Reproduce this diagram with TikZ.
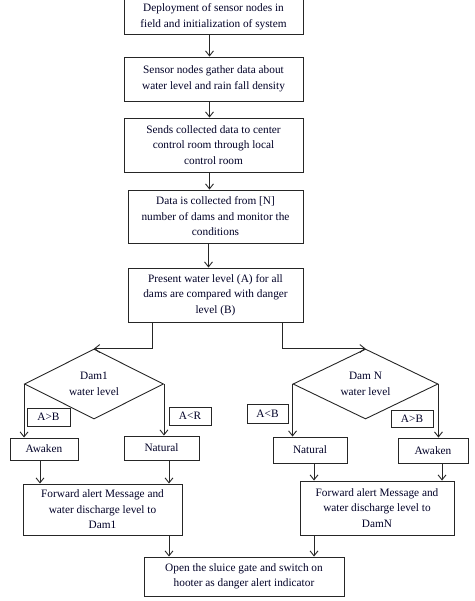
\documentclass[tikz,border=0pt]{standalone}
\usepackage{fontspec}
\setmainfont{Liberation Serif}
\usetikzlibrary{shapes.geometric,arrows.meta}
\begin{document}
\begin{tikzpicture}[x=1pt,y=-1pt,
  every node/.style={font=\fontsize{11.3}{15.5}\selectfont, text=black!85!blue},
  box/.style={draw=black!85, line width=0.9pt, align=center, inner sep=0pt, anchor=center},
  lbl/.style={draw=black!85, line width=0.8pt, inner sep=0pt, anchor=center},
  dia/.style={draw=black!85, line width=0.9pt, diamond, aspect=2, inner sep=0pt, align=center},
  arr/.style={draw=black!85, line width=0.9pt, -{Straight Barb[length=5pt,width=8pt]}},
  ln/.style={draw=black!85, line width=0.9pt}]
\useasboundingbox (0,0) rectangle (474,601);
\node[box, minimum width=179pt, minimum height=36pt] (b1) at (213.5,16.5) {Deployment of sensor nodes in\\field and initialization of system};
\node[box, minimum width=179pt, minimum height=44pt] (b2) at (213.5,79) {Sensor nodes gather data about\\water level and rain fall density};
\node[box, minimum width=179pt, minimum height=54pt] (b3) at (213.5,145) {Sends collected data to center\\control room through local\\control room};
\node[box, minimum width=175pt, minimum height=53pt] (b4) at (215.5,216.5) {Data is collected from [N]\\number of dams and monitor the\\conditions};
\node[box, minimum width=175pt, minimum height=54pt] (b5) at (215.5,295) {Present water level (A) for all\\dams are compared with danger\\level (B)};
\node[dia, minimum width=139pt, minimum height=70pt] (d1) at (94,384) {Dam1\\water level};
\node[dia, minimum width=145pt, minimum height=70pt] (d2) at (365.5,384) {Dam N\\water level};
\node[lbl, minimum width=43pt, minimum height=18pt] (l1) at (48.5,417) {A>B};
\node[lbl, minimum width=42pt, minimum height=18pt] (l2) at (190,416) {A<R};
\node[lbl, minimum width=41pt, minimum height=19pt] (l3) at (267.5,413.5) {A<B};
\node[lbl, minimum width=42pt, minimum height=17pt] (l4) at (412,418.5) {A>B};
\node[box, minimum width=68pt, minimum height=22pt] (aw1) at (44,449) {Awaken};
\node[box, minimum width=75pt, minimum height=24pt] (na1) at (161.5,448) {Natural};
\node[box, minimum width=74pt, minimum height=26pt] (na2) at (310,450) {Natural};
\node[box, minimum width=70pt, minimum height=25pt] (aw2) at (433,450.5) {Awaken};
\node[box, minimum width=159pt, minimum height=51pt] (f1) at (102.5,509.5) {Forward alert Message and\\water discharge level to\\Dam1};
\node[box, minimum width=154pt, minimum height=54pt] (f2) at (377,508) {Forward alert Message and\\water discharge level to\\DamN};
\node[box, minimum width=200pt, minimum height=39pt] (fin) at (244,576.5) {Open the sluice gate and switch on\\hooter as danger alert indicator};
% main column
\draw[arr] ([xshift=-4pt]b1.south) -- ([xshift=-4pt]b1.south |- b2.north);
\draw[arr] ([xshift=-4pt]b2.south) -- ([xshift=-4pt]b2.south |- b3.north);
\draw[arr] ([xshift=-4pt]b3.south) -- ([xshift=-4pt]b3.south |- b4.north);
\draw[arr] ([xshift=-7pt]b4.south) -- ([xshift=-7pt]b4.south |- b5.north);
% to diamonds
\draw[arr] ([xshift=-63.5pt]b5.south) |- (d1.north);
\draw[arr] ([xshift=66.5pt]b5.south) |- (d2.north);
% diamond branches
\draw[arr] (d1.west) -- (d1.west |- aw1.north);
\draw[arr] (d1.east) -- (d1.east |- na1.north);
\draw[arr] (d2.west) -- (d2.west |- na2.north);
\draw[arr] (d2.east) -- (d2.east |- aw2.north);
% to forward boxes
\draw[arr] ([xshift=-4pt]aw1.south) -- ([xshift=-4pt]aw1.south |- f1.north);
\draw[arr] ([xshift=7.5pt]na1.south) -- ([xshift=7.5pt]na1.south |- f1.north);
\draw[arr] ([xshift=4pt]na2.south) -- ([xshift=4pt]na2.south |- f2.north);
\draw[arr] ([xshift=9pt]aw2.south) -- ([xshift=9pt]aw2.south |- f2.north);
% to final
\draw[arr] ([xshift=66.5pt]f1.south) -- ([xshift=66.5pt]f1.south |- fin.north);
\draw[arr] ([xshift=-63pt]f2.south) -- ([xshift=-63pt]f2.south |- fin.north);
\end{tikzpicture}
\end{document}
